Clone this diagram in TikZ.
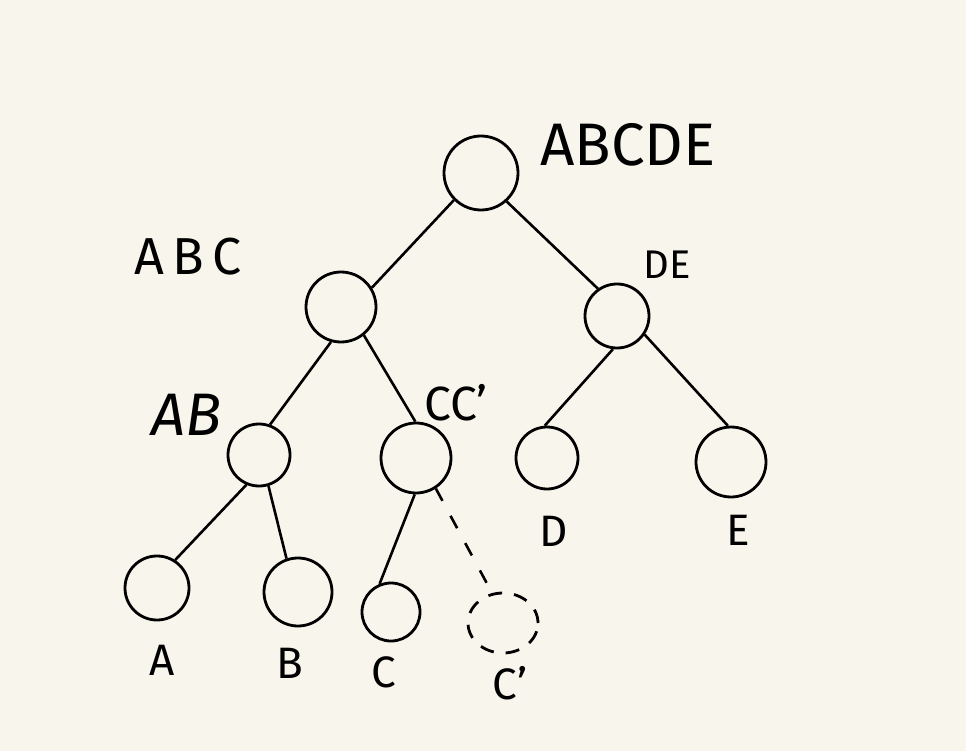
\documentclass[tikz,border=0pt]{standalone}
\usepackage{fontspec}
\setmainfont{Fira Sans}
\usetikzlibrary{shapes.geometric}
\definecolor{paper}{HTML}{F7F5EC}
\tikzset{
  nd/.style={circle,draw=black,line width=2.8pt,inner sep=0pt,fill=none},
  ghost/.style={ellipse,draw=black,line width=2.8pt,inner sep=0pt,dash pattern=on 14pt off 12pt},
  edge/.style={draw=black,line width=2.6pt},
  dashedge/.style={draw=black,line width=2.6pt,dash pattern=on 14pt off 17pt},
  lbl/.style={inner sep=0pt,text=black,font=\fontsize{#1}{#1}\selectfont},
}
\begin{document}
\begin{tikzpicture}[x=1pt,y=-1pt]
\fill[paper] (0,0) rectangle (966,751);
\useasboundingbox (0,0) rectangle (966,751);
% nodes
\node[nd,minimum size=74pt] (abcde) at (481,173) {};
\node[nd,minimum size=70pt] (abc) at (341,307) {};
\node[nd,minimum size=64pt] (de) at (617,316) {};
\node[nd,minimum size=62pt] (ab) at (259,455) {};
\node[nd,minimum size=70pt] (cc) at (416,458) {};
\node[nd,minimum size=62pt] (d) at (547,458) {};
\node[nd,minimum size=70pt] (e) at (731,462) {};
\node[nd,minimum size=64pt] (a) at (157,588) {};
\node[nd,minimum size=68pt] (b) at (298,592) {};
\node[nd,minimum size=58pt] (c) at (391,612) {};
\node[ghost,minimum width=70pt,minimum height=60pt] (cp) at (503,623) {};
% edges
\draw[edge] (abcde.225) -- (abc.32);
\draw[edge] (abcde.312) -- (de.125);
\draw[edge] (abc.254) -- (ab.70);
\draw[edge] (abc.309) -- (cc.91);
\draw[edge] (de.263) -- (d.94);
\draw[edge] (de.326) -- (e.95);
\draw[edge] (ab.247) -- (a.57);
\draw[edge] (ab.287) -- (b.109);
\draw[edge] (cc.268) -- (c.112);
\draw[dashedge] (cc.303) -- (cp.110);
% labels
\node[lbl=60] (tabcde) at (628,145) {ABCDE};
\node[lbl=52] (tabc) at (188,257) {A\,B\,C};
\node[lbl=40] (tde) at (667,265) {DE};
\node[lbl=60] (tab) at (187,415) {\itshape AB};
\node[lbl=48] (tcc) at (456,403) {CC'};
\node[lbl=44] (td) at (554,531) {D};
\node[lbl=44] (te) at (738,530) {E};
\node[lbl=44] (ta) at (162,660) {A};
\node[lbl=44] (tb) at (290,663) {B};
\node[lbl=44] (tc) at (384,672) {C};
\node[lbl=44] (tcp) at (510,683) {C'};
\end{tikzpicture}
\end{document}
